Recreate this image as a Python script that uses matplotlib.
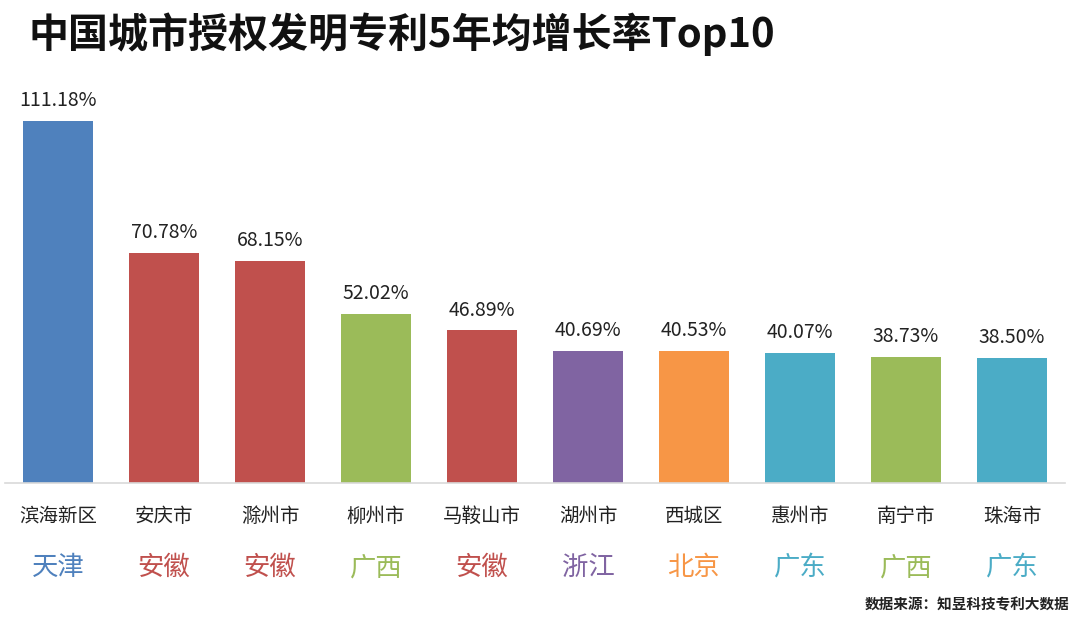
import matplotlib
matplotlib.use("Agg")
import matplotlib.pyplot as plt

plt.rcParams['font.family'] = ['Noto Sans CJK SC', 'DejaVu Sans']

cities = ['滨海新区', '安庆市', '滁州市', '柳州市', '马鞍山市', '湖州市', '西城区', '惠州市', '南宁市', '珠海市']
regions = ['天津', '安徽', '安徽', '广西', '安徽', '浙江', '北京', '广东', '广西', '广东']
rates = [111.18, 70.78, 68.15, 52.02, 46.89, 40.69, 40.53, 40.07, 38.73, 38.50]

region_colors = {
    '天津': '#4F81BD',
    '安徽': '#C0504D',
    '广西': '#9BBB59',
    '浙江': '#8064A2',
    '北京': '#F79646',
    '广东': '#4BACC6',
}
colors = [region_colors[r] for r in regions]

fig = plt.figure(figsize=(10.8, 6.21), dpi=100)
ax = fig.add_axes([0.0046, 0.2222, 0.9815, 0.6167])

x = range(len(cities))
ax.bar(x, rates, width=0.66, color=colors)
for i, v in enumerate(rates):
    ax.annotate(f'{v:.2f}%', (i, v), xytext=(0, 7), textcoords='offset points',
                ha='center', va='bottom', fontsize=14, color='#222222')

ax.set_xlim(-0.5, len(cities) - 0.5)
ax.set_ylim(0, 117.6)
for s in ['top', 'right', 'left']:
    ax.spines[s].set_visible(False)
ax.spines['bottom'].set_color('#D9D9D9')
ax.spines['bottom'].set_linewidth(1.2)
ax.set_yticks([])
ax.set_xticks([])

# city names and province under each bar
for i, (c, r) in enumerate(zip(cities, regions)):
    ax.annotate(c, (i, 0), xytext=(0, -24), textcoords='offset points',
                ha='center', va='center', fontsize=14, color='#222222')
    ax.annotate(r, (i, 0), xytext=(0, -61), textcoords='offset points',
                ha='center', va='center', fontsize=19, color=region_colors[r])

fig.text(0.026, 0.945, '中国城市授权发明专利5年均增长率Top10', fontsize=28.8,
         fontweight='black', ha='left', va='center', color='#111111')
fig.text(0.99, 0.026, '数据来源：知昱科技专利大数据', fontsize=10.5,
         fontweight='bold', ha='right', va='center', color='#222222')

fig.savefig('out.png', dpi=100)
